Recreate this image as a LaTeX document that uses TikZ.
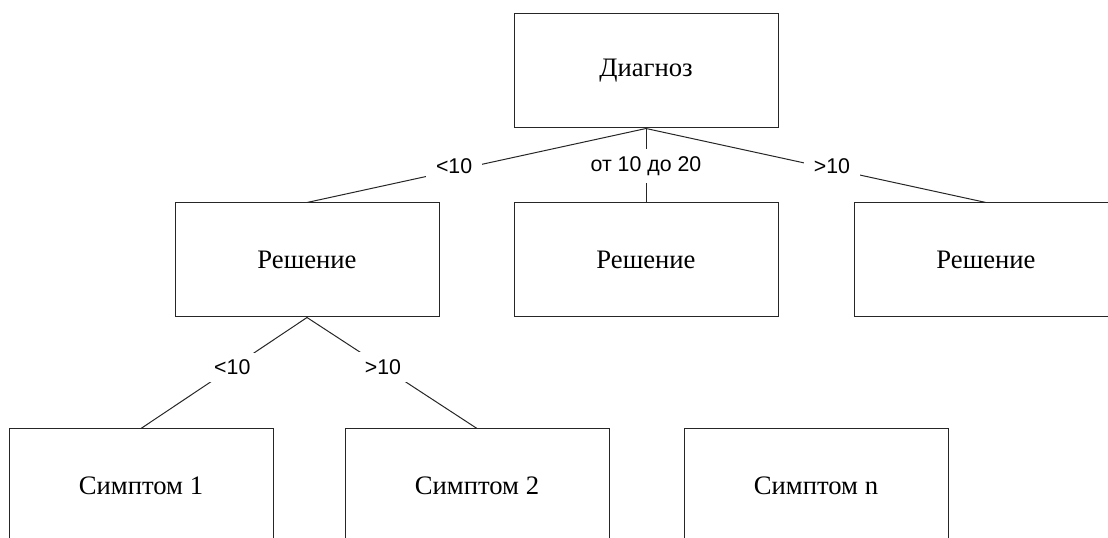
\documentclass[tikz,border=0pt]{standalone}
\usepackage{fontspec}
\setmainfont{Liberation Serif}
\newfontfamily\lblfont{Liberation Sans}
\begin{document}
\begin{tikzpicture}[x=0.75pt,y=-0.75pt,
  box/.style={draw=black!85,line width=0.75pt,minimum width=198pt,minimum height=85.5pt,inner sep=0pt,font=\fontsize{20}{24}\selectfont},
  lbl/.style={fill=white,inner xsep=7.5pt,inner ysep=5.5pt,font=\lblfont\fontsize{16}{19}\selectfont},
  edge/.style={draw=black!85,line width=0.75pt}]
\useasboundingbox (0,0) rectangle (1108,538);
\clip (0,0) rectangle (1108,538);
\node[box] (d) at (646,71) {Диагноз};
\node[box] (r1) at (307,260) {Решение};
\node[box] (r2) at (646,260) {Решение};
\node[box] (r3) at (986,260) {Решение};
\node[box] (s1) at (141,486) {Симптом 1};
\node[box] (s2) at (477,486) {Симптом 2};
\node[box] (sn) at (816,486) {Симптом n};
\path[edge] (d.south) -- node[lbl,pos=0.566,yshift=3pt] {<10} (r1.north);
\path[edge] (d.south) -- node[lbl,pos=0.51] {от 10 до 20} (r2.north);
\path[edge] (d.south) -- node[lbl,pos=0.547,yshift=2pt] {>10} (r3.north);
\path[edge] (r1.south) -- node[lbl,pos=0.45] {<10} (s1.north);
\path[edge] (r1.south) -- node[lbl,pos=0.447] {>10} (s2.north);
\end{tikzpicture}
\end{document}
